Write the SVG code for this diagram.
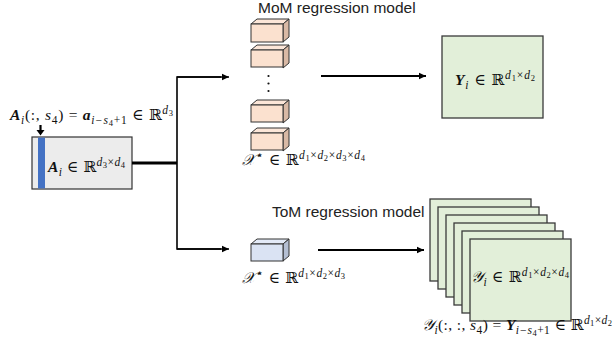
<svg xmlns="http://www.w3.org/2000/svg" width="614" height="352" viewBox="0 0 614 352">
<defs>
<style>
.lbl{font-family:"Liberation Sans","Noto Sans",sans-serif;font-size:15.5px;fill:#222}
.m{font-family:"Liberation Serif","DejaVu Serif",serif;font-size:15.5px;fill:#111}
.b{font-weight:bold;font-style:italic}
.it{font-style:italic}
.s{font-size:11.5px}
.ss{font-size:8.5px}
.cube-f{stroke:#333;stroke-width:1}
.wire{fill:none;stroke:#000;stroke-width:1.6}
.frame{fill:#e2efd9;stroke:#3a3a3a;stroke-width:1.3}
</style>
<marker id="ah" markerWidth="8" markerHeight="8" refX="7" refY="4" orient="auto" markerUnits="userSpaceOnUse">
<path d="M0,0.8 L7,4 L0,7.2 z" fill="#000"/>
</marker>
</defs>
<rect width="614" height="352" fill="#fff"/>

<g id="input-matrix">
<rect x="32" y="137" width="100" height="52" fill="#ececec" stroke="#333" stroke-width="1.2"/>
<rect x="38" y="137.6" width="7" height="50.8" fill="#4472c4"/>
<text class="m" x="48" y="172" textLength="77" lengthAdjust="spacing"><tspan class="b">A</tspan><tspan class="s it" dy="3.5">i</tspan><tspan dy="-3.5"> ∈ ℝ</tspan><tspan class="s it" dy="-6">d</tspan><tspan class="ss" dy="2">3</tspan><tspan class="s" dy="-2">×</tspan><tspan class="s it">d</tspan><tspan class="ss" dy="2">4</tspan></text>
<text class="m" x="10" y="120" textLength="163" lengthAdjust="spacing"><tspan class="b">A</tspan><tspan class="s it" dy="3.5">i</tspan><tspan dy="-3.5">(:, </tspan><tspan class="it">s</tspan><tspan class="s" dy="3.5">4</tspan><tspan dy="-3.5">) = </tspan><tspan class="b">a</tspan><tspan class="s it" dy="3.5">i−s</tspan><tspan class="ss" dy="2">4</tspan><tspan class="s" dy="-2">+1</tspan><tspan dy="-3.5"> ∈ ℝ</tspan><tspan class="s it" dy="-6">d</tspan><tspan class="ss" dy="2">3</tspan></text>
<line x1="40.5" y1="125" x2="40.5" y2="131" stroke="#000" stroke-width="2.2"/>
<path d="M36.5,130 L44.5,130 L40.5,135.5 z" fill="#000"/>
</g>

<g id="connectors">
<line x1="132" y1="163" x2="177" y2="163" stroke="#000" stroke-width="3"/>
<polyline class="wire" points="221,77 177,77 177,249 221,249"/>
<line x1="177" y1="77" x2="229" y2="77" stroke="#000" stroke-width="1.6" marker-end="url(#ah)"/>
<line x1="177" y1="249" x2="229" y2="249" stroke="#000" stroke-width="1.6" marker-end="url(#ah)"/>
<line x1="321" y1="76" x2="426" y2="76" stroke="#000" stroke-width="1.8" marker-end="url(#ah)"/>
<line x1="318" y1="250" x2="424" y2="250" stroke="#000" stroke-width="1.8" marker-end="url(#ah)"/>
</g>

<g id="mom-title"><text class="lbl" x="258" y="13">MoM regression model</text></g>

<g id="mom-tensors">
<g transform="translate(251,24)">
<path d="M0,0 L6,-5 L38,-5 L32,0 z" fill="#fce6d8" class="cube-f"/>
<path d="M32,0 L38,-5 L38,13 L32,18 z" fill="#d9b9a5" class="cube-f"/>
<rect x="0" y="0" width="32" height="18" fill="#fbe1cf" class="cube-f"/>
</g>
<g transform="translate(251,50)">
<path d="M0,0 L6,-5 L38,-5 L32,0 z" fill="#fce6d8" class="cube-f"/>
<path d="M32,0 L38,-5 L38,13 L32,18 z" fill="#d9b9a5" class="cube-f"/>
<rect x="0" y="0" width="32" height="17" fill="#fbe1cf" class="cube-f"/>
</g>
<circle cx="268.5" cy="76" r="1.1" fill="#111"/>
<circle cx="268.5" cy="83.5" r="1.1" fill="#111"/>
<circle cx="268.5" cy="91" r="1.1" fill="#111"/>
<g transform="translate(251,105)">
<path d="M0,0 L6,-5 L38,-5 L32,0 z" fill="#fce6d8" class="cube-f"/>
<path d="M32,0 L38,-5 L38,13 L32,18 z" fill="#d9b9a5" class="cube-f"/>
<rect x="0" y="0" width="32" height="17" fill="#fbe1cf" class="cube-f"/>
</g>
<g transform="translate(251,133)">
<path d="M0,0 L6,-5 L38,-5 L32,0 z" fill="#fce6d8" class="cube-f"/>
<path d="M32,0 L38,-5 L38,13 L32,18 z" fill="#d9b9a5" class="cube-f"/>
<rect x="0" y="0" width="32" height="17" fill="#fbe1cf" class="cube-f"/>
</g>
<text class="m" x="242" y="165" textLength="123" lengthAdjust="spacing"><tspan class="it">𝒳</tspan><tspan class="s" dy="-6">⋆</tspan><tspan dy="6"> ∈ ℝ</tspan><tspan class="s it" dy="-6">d</tspan><tspan class="ss" dy="2">1</tspan><tspan class="s" dy="-2">×</tspan><tspan class="s it">d</tspan><tspan class="ss" dy="2">2</tspan><tspan class="s" dy="-2">×</tspan><tspan class="s it">d</tspan><tspan class="ss" dy="2">3</tspan><tspan class="s" dy="-2">×</tspan><tspan class="s it">d</tspan><tspan class="ss" dy="2">4</tspan></text>
</g>

<g id="mom-output">
<rect x="442" y="36" width="101" height="82" fill="#e2efd9" stroke="#3a3a3a" stroke-width="1.3"/>
<text class="m" x="455" y="85" textLength="80" lengthAdjust="spacing"><tspan class="b">Y</tspan><tspan class="s it" dy="3.5">i</tspan><tspan dy="-3.5"> ∈ ℝ</tspan><tspan class="s it" dy="-6">d</tspan><tspan class="ss" dy="2">1</tspan><tspan class="s" dy="-2">×</tspan><tspan class="s it">d</tspan><tspan class="ss" dy="2">2</tspan></text>
</g>

<g id="tom-title"><text class="lbl" x="272" y="217">ToM regression model</text></g>

<g id="tom-tensor">
<g transform="translate(251,244)">
<path d="M0,0 L6,-5 L38,-5 L32,0 z" fill="#e3eaf7" class="cube-f"/>
<path d="M32,0 L38,-5 L38,12 L32,17 z" fill="#b4bfd3" class="cube-f"/>
<rect x="0" y="0" width="32" height="17" fill="#dae3f3" class="cube-f"/>
</g>
<text class="m" x="242" y="283" textLength="103" lengthAdjust="spacing"><tspan class="it">𝒳</tspan><tspan class="s" dy="-6">⋆</tspan><tspan dy="6"> ∈ ℝ</tspan><tspan class="s it" dy="-6">d</tspan><tspan class="ss" dy="2">1</tspan><tspan class="s" dy="-2">×</tspan><tspan class="s it">d</tspan><tspan class="ss" dy="2">2</tspan><tspan class="s" dy="-2">×</tspan><tspan class="s it">d</tspan><tspan class="ss" dy="2">3</tspan></text>
</g>

<g id="tom-output">
<rect class="frame" x="430" y="199" width="101" height="82"/>
<rect class="frame" x="438" y="207" width="101" height="82"/>
<rect class="frame" x="446" y="215" width="101" height="82"/>
<rect class="frame" x="454" y="223" width="101" height="82"/>
<rect class="frame" x="462" y="231" width="101" height="82"/>
<rect class="frame" x="470" y="239" width="101" height="82"/>
<text class="m" x="471" y="282" textLength="98" lengthAdjust="spacing"><tspan class="it">𝒴</tspan><tspan class="s it" dy="3.5">i</tspan><tspan dy="-3.5"> ∈ ℝ</tspan><tspan class="s it" dy="-6">d</tspan><tspan class="ss" dy="2">1</tspan><tspan class="s" dy="-2">×</tspan><tspan class="s it">d</tspan><tspan class="ss" dy="2">2</tspan><tspan class="s" dy="-2">×</tspan><tspan class="s it">d</tspan><tspan class="ss" dy="2">4</tspan></text>
<text class="m" x="422" y="330" textLength="190" lengthAdjust="spacing"><tspan class="it">𝒴</tspan><tspan class="s it" dy="3.5">i</tspan><tspan dy="-3.5">(:, :, </tspan><tspan class="it">s</tspan><tspan class="s" dy="3.5">4</tspan><tspan dy="-3.5">) = </tspan><tspan class="b">Y</tspan><tspan class="s it" dy="3.5">i−s</tspan><tspan class="ss" dy="2">4</tspan><tspan class="s" dy="-2">+1</tspan><tspan dy="-3.5"> ∈ ℝ</tspan><tspan class="s it" dy="-6">d</tspan><tspan class="ss" dy="2">1</tspan><tspan class="s" dy="-2">×</tspan><tspan class="s it">d</tspan><tspan class="ss" dy="2">2</tspan></text>
</g>
</svg>
